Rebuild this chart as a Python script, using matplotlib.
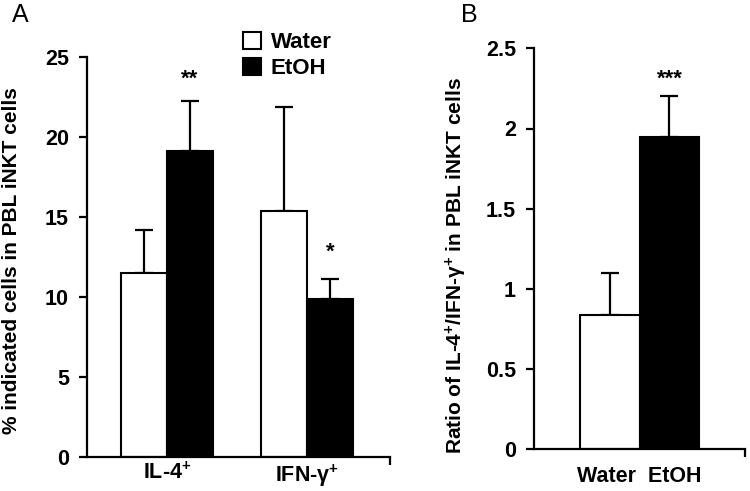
import matplotlib
matplotlib.use("Agg")
import matplotlib.pyplot as plt
from matplotlib.patches import Patch

plt.rcParams['font.family'] = ['Liberation Sans', 'DejaVu Sans']
plt.rcParams['mathtext.fontset'] = 'custom'
plt.rcParams['mathtext.rm'] = 'Liberation Sans:bold'
plt.rcParams['mathtext.bf'] = 'Liberation Sans:bold'
plt.rcParams['mathtext.it'] = 'Liberation Sans:bold'
plt.rcParams['mathtext.default'] = 'bf'

# ---- data ----
cats_a = ["IL-4$^{+}$", "IFN-γ$^{+}$"]
water_a = [11.5, 15.35]
water_a_err = [2.7, 6.5]
etoh_a = [19.15, 9.9]
etoh_a_err = [3.1, 1.2]
stars_a_etoh = ["**", "*"]
stars_a_y = [22.95, 12.15]

cat_b = ["Water  EtOH"]
water_b = [0.84]
water_b_err = [0.26]
etoh_b = [1.95]
etoh_b_err = [0.25]
stars_b_etoh = ["***"]
stars_b_y = [2.24]

series_names = ["Water", "EtOH"]

W, H = 750, 491
fig = plt.figure(figsize=(7.5, 4.91), dpi=100)

def px_axes(l, r, b, t):
    return fig.add_axes([l / W, 1 - b / H, (r - l) / W, (b - t) / H])

def style(ax):
    for s in ['top', 'right']:
        ax.spines[s].set_visible(False)
    for s in ['left', 'bottom']:
        ax.spines[s].set_linewidth(1.6)
    ax.tick_params(axis='y', direction='out', length=6, width=1.6, labelsize=15.5, pad=7)
    for lab in ax.get_yticklabels():
        lab.set_fontweight('bold')

ekw = dict(elinewidth=1.6, capsize=6.5, capthick=1.6, ecolor='black')

# ---- panel A ----
axA = px_axes(87, 390, 457, 57)
bw = 0.33
xa = [0, 1]
xw = [x - bw / 2 for x in xa]
xe = [x + bw / 2 for x in xa]
axA.bar(xw, water_a, bw, color='white', edgecolor='black', linewidth=1.5, zorder=2)
axA.errorbar(xw, water_a, yerr=[[0] * 2, water_a_err], fmt='none', zorder=1, **ekw)
axA.bar(xe, etoh_a, bw, color='black', edgecolor='black', linewidth=1.5, zorder=2)
axA.errorbar(xe, etoh_a, yerr=[[0] * 2, etoh_a_err], fmt='none', zorder=1, **ekw)
for x, y, s in zip(xe, stars_a_y, stars_a_etoh):
    axA.text(x, y, s, ha='center', va='bottom', fontsize=16, fontweight='bold')
axA.set_xlim(-0.571, 1.593)
axA.set_ylim(0, 25)
axA.set_yticks([0, 5, 10, 15, 20, 25])
axA.set_yticklabels(["0", "5", "10", "15", "20", "25"])
axA.set_xticks(xa)
axA.set_xticklabels(cats_a, fontsize=15.5, fontweight='bold')
axA.tick_params(axis='x', length=0, pad=4)
axA.set_xticks([1.593], minor=True)
axA.tick_params(axis='x', which='minor', length=6, width=1.6, direction='out')
style(axA)
axA.set_ylabel("% indicated cells in PBL iNKT cells", fontsize=15, fontweight='bold')
axA.yaxis.set_label_coords((21 - 87) / 303, 0.49)

# ---- panel B ----
axB = px_axes(534, 745, 449.3, 48.3)
bwb = 0.284
xb = [0]
axB.bar([x - bwb / 2 for x in xb], water_b, bwb, color='white', edgecolor='black', linewidth=1.5, zorder=2)
axB.errorbar([x - bwb / 2 for x in xb], water_b, yerr=[[0], water_b_err], fmt='none', zorder=1, **ekw)
axB.bar([x + bwb / 2 for x in xb], etoh_b, bwb, color='black', edgecolor='black', linewidth=1.5, zorder=2)
axB.errorbar([x + bwb / 2 for x in xb], etoh_b, yerr=[[0], etoh_b_err], fmt='none', zorder=1, **ekw)
for x, y, s in zip([x + bwb / 2 for x in xb], stars_b_y, stars_b_etoh):
    axB.text(x, y, s, ha='center', va='bottom', fontsize=16, fontweight='bold')
axB.set_xlim(-0.5, 0.5)
axB.set_ylim(0, 2.5)
axB.set_yticks([0, 0.5, 1, 1.5, 2, 2.5])
axB.set_yticklabels(["0", "0.5", "1", "1.5", "2", "2.5"])
axB.set_xticks(xb)
axB.set_xticklabels(cat_b, fontsize=15.5, fontweight='bold')
axB.tick_params(axis='x', length=0, pad=12)
axB.set_xticks([0.5], minor=True)
axB.tick_params(axis='x', which='minor', length=6, width=1.6, direction='out')
style(axB)
axB.set_ylabel("Ratio of IL-4$^{+}$/IFN-γ$^{+}$ in PBL iNKT cells", fontsize=15, fontweight='bold')
axB.yaxis.set_label_coords((469 - 534) / 211, (449.3 - 266) / 401)

# ---- legend ----
handles = [Patch(facecolor='white', edgecolor='black', linewidth=1.5),
           Patch(facecolor='black', edgecolor='black', linewidth=1.5)]
fig.legend(handles, series_names, loc='upper left', bbox_to_anchor=(243 / W, 1 - 32 / H),
           frameon=False, borderpad=0, borderaxespad=0, handlelength=0.81, handleheight=0.81,
           handletextpad=0.45, labelspacing=0.22, prop={'size': 16, 'weight': 'bold'})

# ---- panel letters ----
fig.text(12 / W, 1 - 15 / H, "A", fontsize=18, va='center', ha='left')
fig.text(461 / W, 1 - 15 / H, "B", fontsize=18, va='center', ha='left')

fig.savefig("out.png", dpi=100)
